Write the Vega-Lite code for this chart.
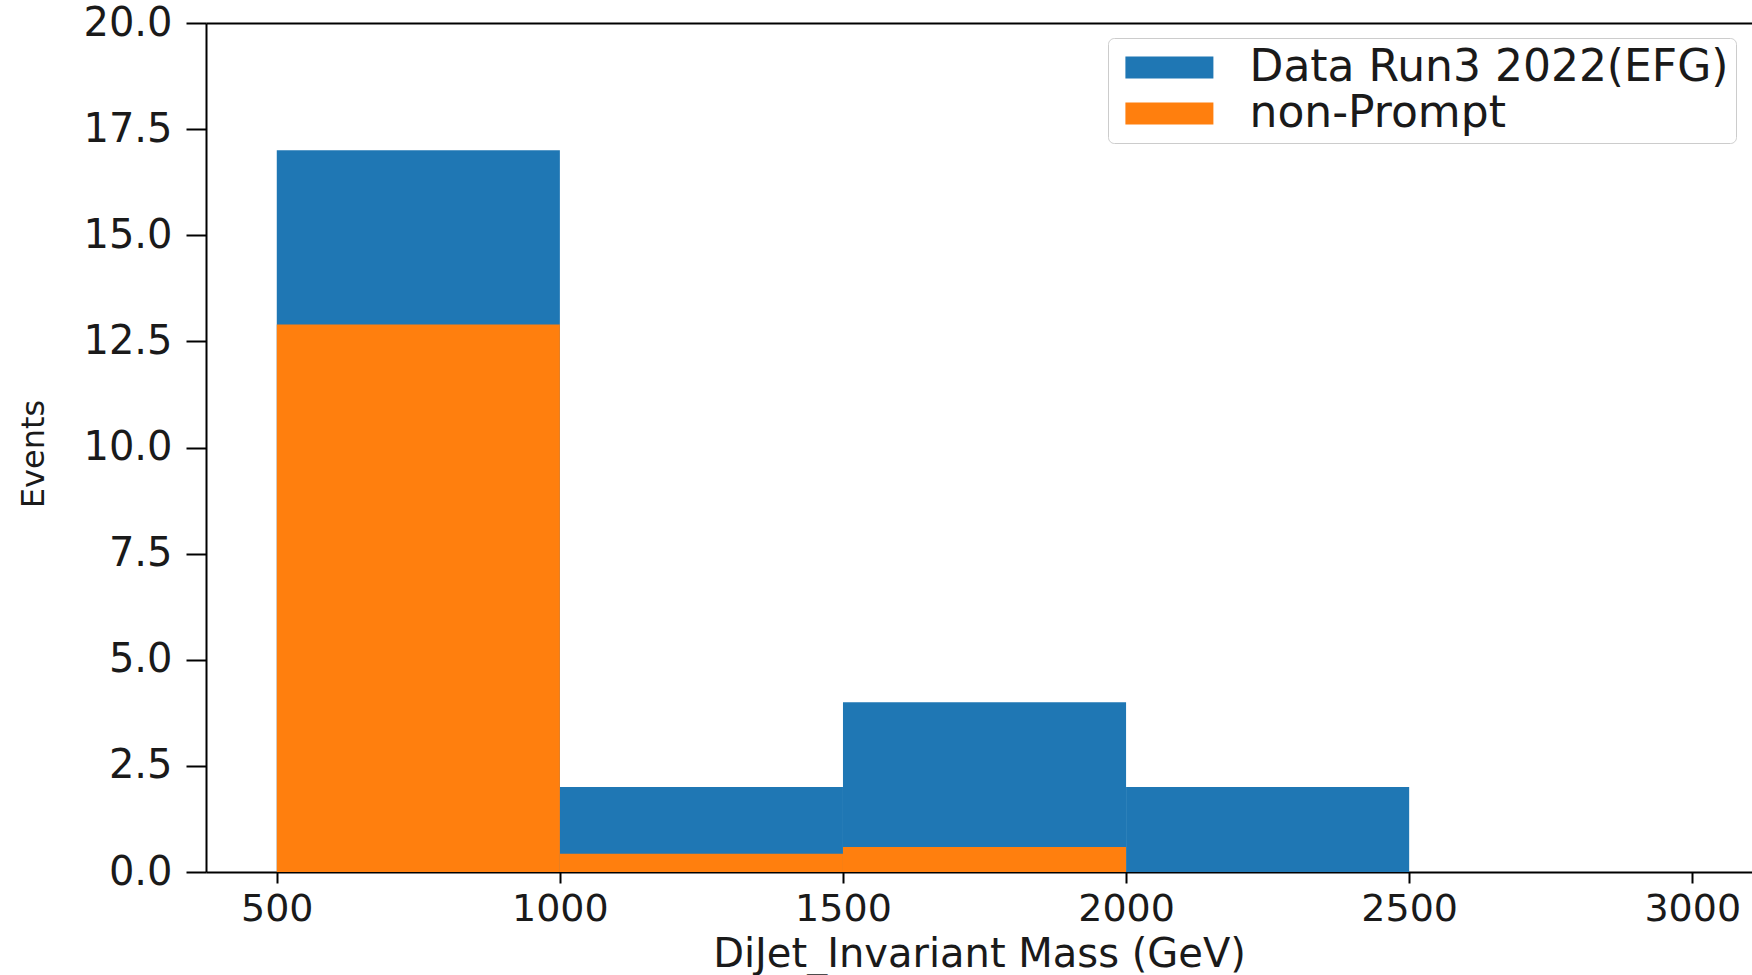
{
  "$schema": "https://vega.github.io/schema/vega-lite/v6.json",
  "width": 1546,
  "height": 849,
  "autosize": "none",
  "padding": {"left": 206, "top": 23, "right": 0, "bottom": 103},
  "background": "white",
  "config": {
    "view": {"stroke": null},
    "font": "DejaVu Sans",
    "axis": {
      "domainColor": "#000000",
      "domainWidth": 2,
      "tickColor": "#000000",
      "tickWidth": 2,
      "labelColor": "#1a1a1a",
      "titleColor": "#1a1a1a",
      "labelFont": "DejaVu Sans",
      "titleFont": "DejaVu Sans",
      "titleFontWeight": "normal",
      "grid": false,
      "labelOverlap": false,
      "labelFlush": false,
      "labelBound": false
    },
    "legend": {
      "labelFont": "DejaVu Sans",
      "labelColor": "#1a1a1a"
    }
  },
  "data": {
    "values": [
      {"series": "Data Run3 2022(EFG)", "lo": 500, "hi": 1000, "events": 17},
      {"series": "Data Run3 2022(EFG)", "lo": 1000, "hi": 1500, "events": 2},
      {"series": "Data Run3 2022(EFG)", "lo": 1500, "hi": 2000, "events": 4},
      {"series": "Data Run3 2022(EFG)", "lo": 2000, "hi": 2500, "events": 2},
      {"series": "non-Prompt", "lo": 500, "hi": 1000, "events": 12.9},
      {"series": "non-Prompt", "lo": 1000, "hi": 1500, "events": 0.43},
      {"series": "non-Prompt", "lo": 1500, "hi": 2000, "events": 0.59}
    ]
  },
  "layer": [
    {
      "mark": {"type": "bar", "strokeWidth": 0, "clip": true},
      "encoding": {
        "x": {
          "field": "lo",
          "type": "quantitative",
          "scale": {"domain": [375, 3105.5], "nice": false, "zero": false},
          "axis": {
            "orient": "bottom",
            "values": [500, 1000, 1500, 2000, 2500, 3000],
            "format": "d",
            "tickSize": 11,
            "labelPadding": 7,
            "labelFontSize": 38,
            "title": "DiJet_Invariant Mass (GeV)",
            "titleFontSize": 40,
            "titlePadding": 6
          }
        },
        "x2": {"field": "hi"},
        "y": {
          "field": "events",
          "type": "quantitative",
          "stack": null,
          "scale": {"domain": [0, 20], "nice": false},
          "axis": {
            "values": [0, 2.5, 5, 7.5, 10, 12.5, 15, 17.5, 20],
            "format": ".1f",
            "tickSize": 20,
            "labelPadding": 14,
            "labelFontSize": 40,
            "title": "Events",
            "titleFontSize": 32,
            "titlePadding": 32,
            "titleY": 430.5
          }
        },
        "y2": {"datum": 0},
        "color": {
          "field": "series",
          "type": "nominal",
          "scale": {
            "domain": ["Data Run3 2022(EFG)", "non-Prompt"],
            "range": ["#1f77b4", "#ff7f0e"]
          },
          "legend": {
            "orient": "none",
            "legendX": 902,
            "legendY": 15,
            "title": null,
            "padding": 7.5,
            "cornerRadius": 6,
            "strokeColor": "#cccccc",
            "fillColor": "#ffffff",
            "symbolType": "M-1.1,-1L6.9,-1L6.9,1L-1.1,1Z",
            "symbolSize": 484,
            "symbolStrokeWidth": 0,
            "symbolOpacity": 1,
            "labelFontSize": 44,
            "labelOffset": 90,
            "labelLimit": 0,
            "rowPadding": 2
          }
        }
      }
    },
    {
      "mark": {"type": "bar", "opacity": 0},
      "encoding": {
        "x": {
          "field": "lo",
          "type": "quantitative",
          "axis": {
            "orient": "top",
            "labels": false,
            "ticks": false,
            "title": null,
            "domainWidth": 2
          }
        },
        "x2": {"field": "hi"}
      }
    }
  ],
  "resolve": {"axis": {"x": "independent"}}
}
